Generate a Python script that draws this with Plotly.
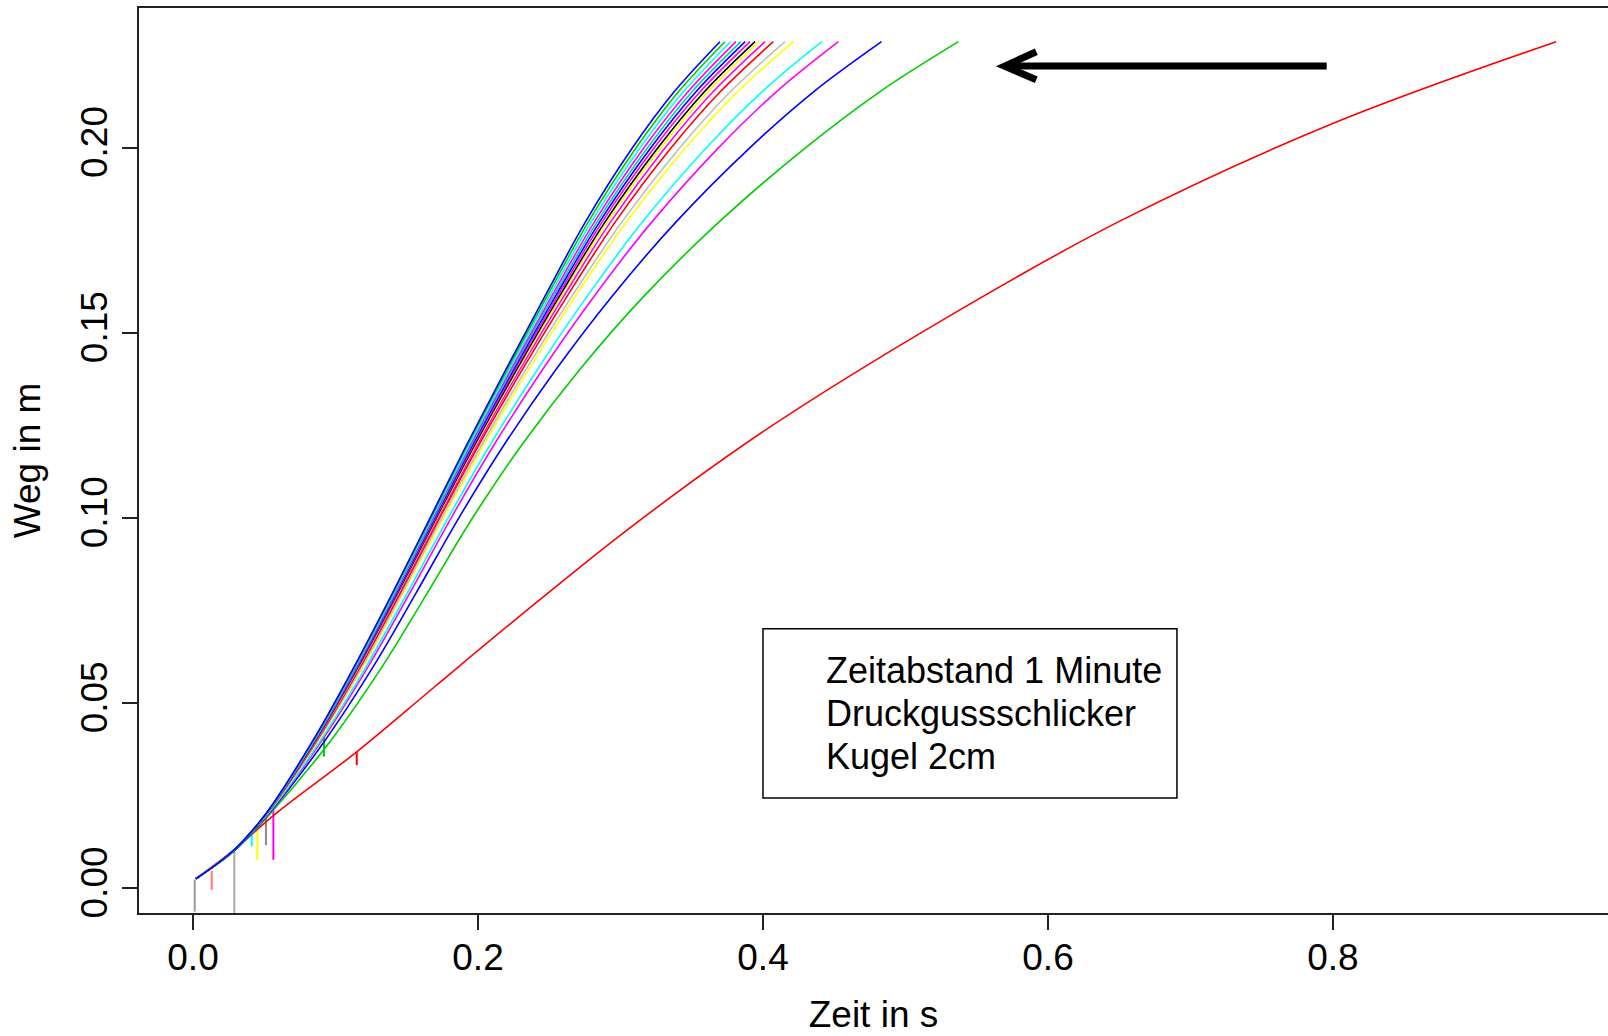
import plotly.graph_objects as go

# Weg levels (m) at which the run times were read
weg_levels = [0.0025, 0.01, 0.02, 0.04, 0.06, 0.08, 0.10, 0.12, 0.14, 0.16, 0.18, 0.20, 0.215, 0.2286]

# Zeit (s) of each run at the Weg levels above (fastest -> slowest of the bunch)
run_01 = [0.002, 0.028, 0.051, 0.0844, 0.1134, 0.1404, 0.1664, 0.1924, 0.2195, 0.2472, 0.2755, 0.3085, 0.3375, 0.3698]
run_02 = [0.002, 0.028, 0.0511, 0.0847, 0.1138, 0.1409, 0.167, 0.1932, 0.2206, 0.2487, 0.2775, 0.3111, 0.3405, 0.3733]
run_03 = [0.002, 0.028, 0.0511, 0.085, 0.1143, 0.1415, 0.1677, 0.1942, 0.2218, 0.2503, 0.2797, 0.314, 0.344, 0.3773]
run_04 = [0.002, 0.028, 0.0512, 0.0852, 0.1147, 0.142, 0.1684, 0.195, 0.223, 0.2519, 0.2818, 0.3166, 0.3472, 0.381]
run_05 = [0.002, 0.028, 0.0513, 0.0855, 0.1151, 0.1425, 0.169, 0.1958, 0.224, 0.2533, 0.2837, 0.3191, 0.35, 0.3844]
run_06 = [0.002, 0.028, 0.0513, 0.0857, 0.1155, 0.143, 0.1696, 0.1965, 0.225, 0.2546, 0.2855, 0.3214, 0.3528, 0.3875]
run_07 = [0.002, 0.028, 0.0514, 0.086, 0.1159, 0.1435, 0.1702, 0.1973, 0.226, 0.256, 0.2873, 0.3238, 0.3557, 0.3909]
run_08 = [0.002, 0.028, 0.0514, 0.0863, 0.1163, 0.144, 0.1708, 0.1981, 0.2271, 0.2574, 0.2893, 0.3264, 0.3587, 0.3944]
run_09 = [0.002, 0.028, 0.0515, 0.0865, 0.1167, 0.1444, 0.1713, 0.1988, 0.228, 0.2587, 0.291, 0.3285, 0.3613, 0.3974]
run_10 = [0.002, 0.028, 0.0516, 0.0868, 0.1171, 0.145, 0.172, 0.1998, 0.2293, 0.2604, 0.2932, 0.3315, 0.3648, 0.4014]
run_11 = [0.002, 0.028, 0.0517, 0.0872, 0.1178, 0.1459, 0.1731, 0.2011, 0.2311, 0.2628, 0.2965, 0.3357, 0.3698, 0.4072]
run_12 = [0.002, 0.028, 0.0518, 0.0878, 0.1188, 0.1471, 0.1745, 0.203, 0.2336, 0.2662, 0.3011, 0.3417, 0.3769, 0.4154]
run_13 = [0.002, 0.028, 0.0519, 0.0883, 0.1195, 0.1479, 0.1756, 0.2044, 0.2355, 0.2686, 0.3044, 0.3459, 0.3819, 0.4213]
run_14 = [0.002, 0.028, 0.0523, 0.0898, 0.1218, 0.1509, 0.1791, 0.209, 0.2416, 0.2769, 0.3156, 0.3604, 0.3991, 0.4412]
run_15 = [0.002, 0.028, 0.0525, 0.0907, 0.1232, 0.1526, 0.1812, 0.2117, 0.2452, 0.2818, 0.3222, 0.3689, 0.4092, 0.4529]
run_16 = [0.002, 0.0287, 0.053, 0.0929, 0.1268, 0.157, 0.1866, 0.2188, 0.2546, 0.2944, 0.3392, 0.3909, 0.4353, 0.4832]
run_17 = [0.002, 0.029, 0.054, 0.097, 0.1331, 0.1649, 0.1962, 0.2313, 0.2713, 0.3168, 0.3694, 0.430, 0.4817, 0.5371]

bunch_runs = [run_01, run_02, run_03, run_04, run_05, run_06, run_07, run_08, run_09,
              run_10, run_11, run_12, run_13, run_14, run_15, run_16, run_17]
bunch_colors = ["#0000FF", "#00CD00", "#00FFFF", "#FF00FF", "#00CDCD", "#0000FF", "#FF00FF",
                "#000000", "#FFFF00", "#FF00FF", "#FF0000", "#BEBEBE", "#FFFF00", "#00FFFF",
                "#FF00FF", "#0000FF", "#00CD00"]

# first (slow) run
slow_t = [0.002, 0.028, 0.0587, 0.1149, 0.170, 0.2263, 0.3073, 0.4013, 0.5277, 0.6507, 0.7998, 0.9566]
slow_weg = [0.0025, 0.0101, 0.0203, 0.0368, 0.0545, 0.0725, 0.0975, 0.1236, 0.1538, 0.1802, 0.2065, 0.2286]
slow_color = "#FF0000"

# single-sample dropouts (spikes)
spike_t = [0.0012, 0.0131, 0.029, 0.0412, 0.0451, 0.0512, 0.0564, 0.0919, 0.1149]
spike_top = [0.0023, 0.0046, 0.0098, 0.0143, 0.0157, 0.0193, 0.021, 0.0409, 0.0368]
spike_bottom = [-0.0064, -0.0005, -0.0073, 0.0112, 0.0076, 0.0116, 0.0076, 0.0355, 0.0332]
spike_colors = ["#999999", "#FF7777", "#AAAAAA", "#00FFFF", "#FFFF00", "#888888", "#FF00FF", "#00CD00", "#FF0000"]

x_ticks = [0.0, 0.2, 0.4, 0.6, 0.8]
x_ticktext = ["0.0", "0.2", "0.4", "0.6", "0.8"]
y_ticks = [0.0, 0.05, 0.10, 0.15, 0.20]
y_ticktext = ["0.00", "0.05", "0.10", "0.15", "0.20"]

legend_lines = ["Zeitabstand 1 Minute", "Druckgussschlicker", "Kugel 2cm"]
legend_line_y = [0.0587, 0.0471, 0.0355]

FONT = "Liberation Sans, Arial, Helvetica, sans-serif"

fig = go.Figure()

for i in range(len(spike_t)):
    fig.add_trace(go.Scatter(x=[spike_t[i], spike_t[i]], y=[spike_top[i], spike_bottom[i]],
                             mode="lines", line=dict(color=spike_colors[i], width=2),
                             hoverinfo="skip", showlegend=False))

fig.add_trace(go.Scatter(x=slow_t, y=slow_weg, mode="lines",
                         line=dict(color=slow_color, width=1.6, shape="spline", smoothing=1.0),
                         showlegend=False))

for run, col in reversed(list(zip(bunch_runs, bunch_colors))):
    fig.add_trace(go.Scatter(x=run, y=weg_levels, mode="lines",
                             line=dict(color=col, width=1.6, shape="spline", smoothing=1.0),
                             showlegend=False))

# legend box (text only)
fig.add_shape(type="rect", xref="x", yref="y", x0=0.400, x1=0.6905, y0=0.0243, y1=0.0700,
              line=dict(color="black", width=1.5), fillcolor="rgba(0,0,0,0)")
for txt, yy in zip(legend_lines, legend_line_y):
    fig.add_annotation(x=0.4427, y=yy, xref="x", yref="y", text=txt, showarrow=False,
                       xanchor="left", yanchor="middle",
                       font=dict(family=FONT, size=36, color="black"))

# arrow (open V head)
tip_x, tip_y = 0.5695, 0.2220
tail_x = 0.7956
fig.add_shape(type="line", xref="x", yref="y", x0=tail_x, y0=tip_y, x1=tip_x + 0.002, y1=tip_y,
              line=dict(color="black", width=7))
fig.add_shape(type="path", xref="x", yref="y",
              path=f"M 0.5918 0.2259 L {tip_x} {tip_y} L 0.5918 0.2183",
              line=dict(color="black", width=7))

fig.update_layout(
    width=1608, height=1036,
    margin=dict(l=139, r=0, t=8, b=123),
    paper_bgcolor="white", plot_bgcolor="white",
    font=dict(family=FONT, color="black"),
    showlegend=False,
)
fig.update_xaxes(range=[-0.0379, 0.993], tickvals=x_ticks, ticktext=x_ticktext,
                 showgrid=False, zeroline=False, showline=True, mirror=True,
                 linecolor="#222222", linewidth=2, ticks="outside", ticklen=15, tickwidth=2,
                 tickcolor="#222222", tickfont=dict(size=37, family=FONT), ticklabelstandoff=-4,
                 title=dict(text="Zeit in s", font=dict(size=37, family=FONT), standoff=24))
fig.update_yaxes(range=[-0.00675, 0.2377], tickvals=y_ticks, ticktext=y_ticktext,
                 showgrid=False, zeroline=False, showline=True, mirror=False,
                 linecolor="#222222", linewidth=2, ticks="outside", ticklen=15, tickwidth=2,
                 tickcolor="#222222", tickangle=-90, tickfont=dict(size=37, family=FONT),
                 title=dict(text="Weg in m", font=dict(size=37, family=FONT), standoff=22))

fig.write_html("out.html")
